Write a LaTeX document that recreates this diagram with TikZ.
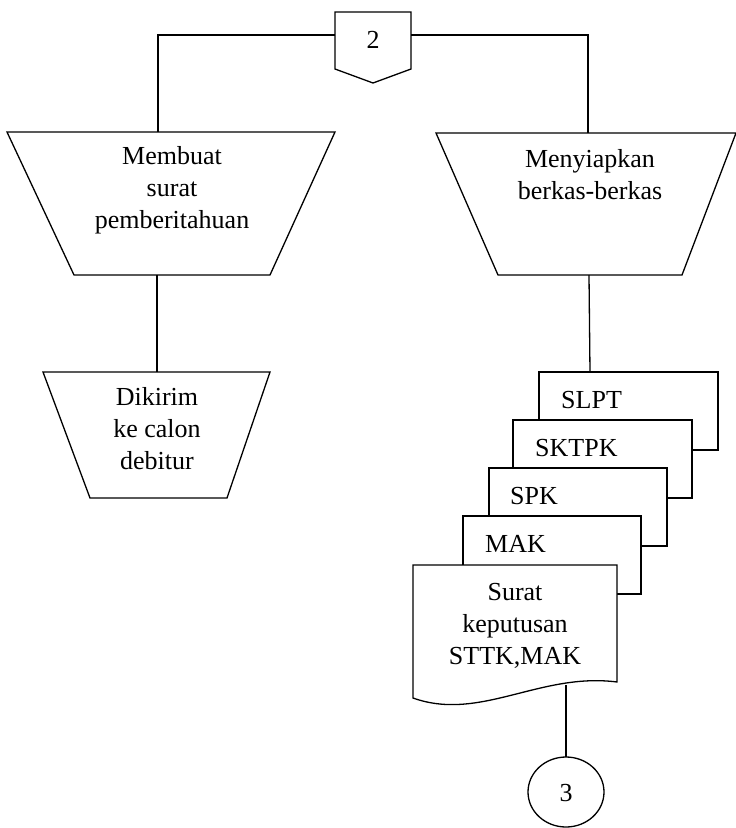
\documentclass[tikz,border=0pt]{standalone}
\usepackage{fontspec}
\setmainfont{Liberation Serif}
\begin{document}
\begin{tikzpicture}[x=1pt,y=-1pt,
  shapeline/.style={draw=black,line width=1.3pt,fill=white,line join=miter},
  link/.style={draw=black,line width=1.3pt},
  txt/.style={font=\fontsize{26}{32}\selectfont,align=center,inner sep=0pt},
  doclabel/.style={font=\fontsize{26}{32}\selectfont,anchor=west,inner sep=0pt}]
\useasboundingbox (0,0) rectangle (736,828);

% off-page connector 2
\draw[shapeline] (335,12) -- (411,12) -- (411,69) -- (373,83) -- (335,69) -- cycle;
\node[txt] (off2) at (373,40) {2};
\coordinate (off2w) at (335,35);
\coordinate (off2e) at (411,35);

% manual operation: Membuat surat pemberitahuan
\draw[shapeline] (7,132) -- (335,132) -- (270,275) -- (74,275) -- cycle;
\node[txt] (membuat) at (172,190) {Membuat\\surat\\pemberitahuan};
\coordinate (membuatN) at (158,132);
\coordinate (membuatS) at (157,275);

% manual operation: Menyiapkan berkas-berkas
\draw[shapeline] (436,133) -- (736,133) -- (682,275) -- (498,275) -- cycle;
\node[txt] (menyiapkan) at (590,175) {Menyiapkan\\berkas-berkas};
\coordinate (menyiapkanN) at (588,133);
\coordinate (menyiapkanS) at (589,275);

% manual operation: Dikirim ke calon debitur
\draw[shapeline] (43,372) -- (270,372) -- (227,498) -- (90,498) -- cycle;
\node[txt] (dikirim) at (157,429) {Dikirim\\ke calon\\debitur};
\coordinate (dikirimN) at (157,372);

% stacked documents, back to front
\draw[shapeline] (539,372) rectangle (718,450);
\node[doclabel] (slpt) at (561,400) {SLPT};
\coordinate (slptN) at (590,372);
\draw[shapeline] (513,420) rectangle (692,498);
\node[doclabel] (sktpk) at (535,448) {SKTPK};
\draw[shapeline] (489,468) rectangle (667,546);
\node[doclabel] (spk) at (510,496) {SPK};
\draw[shapeline] (463,516) rectangle (641,594);
\node[doclabel] (mak) at (485,544) {MAK};
\draw[shapeline] (413,565) -- (617,565) -- (617,682)
  .. controls (540,672) and (480,722) .. (413,698) -- cycle;
\node[txt] (surat) at (515,626) {Surat\\keputusan\\STTK,MAK};
\coordinate (suratS) at (566,685);

% on-page connector 3
\draw[shapeline] (566,792) ellipse [x radius=38, y radius=35];
\node[txt] (on3) at (566,793) {3};
\coordinate (on3N) at (566,757);

% connectors
\draw[link] (off2w) -- (158,35) -- (membuatN);
\draw[link] (off2e) -- (588,35) -- (menyiapkanN);
\draw[link] (membuatS) -- (dikirimN);
\draw[link] (menyiapkanS) -- (slptN);
\draw[link] (suratS) -- (on3N);
\end{tikzpicture}
\end{document}
